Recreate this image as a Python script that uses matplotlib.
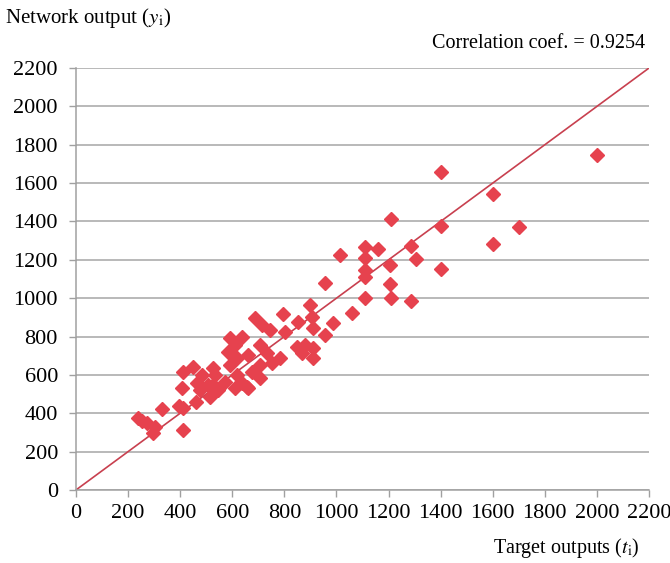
import matplotlib.pyplot as plt

plt.rcParams['font.family'] = ['Liberation Serif', 'DejaVu Serif']
plt.rcParams['mathtext.fontset'] = 'stix'

# target values (t_i) and network outputs (y_i)
target = [2000, 1400, 1600, 1600, 1700, 1400, 1400, 1210, 1285, 1205, 1305, 1205, 1210, 1285,
          1110, 1158, 1013, 1109, 1109, 1109, 956, 1109,
          898, 687, 796, 853, 905, 713, 745, 802, 1058, 988, 911, 956,
          591, 636, 610, 706, 847, 879, 911, 585, 661, 732, 866, 911, 617, 783,
          751, 706, 591, 450, 527, 412, 482, 534, 617, 674, 572, 636, 706,
          610, 661, 476, 527, 406, 463, 546, 508, 514, 655,
          239, 252, 271, 303, 297, 329, 395, 412, 460, 412]
output = [1745, 1660, 1545, 1283, 1370, 1378, 1151, 1412, 1270, 1173, 1204, 1072, 1000, 987,
          1265, 1255, 1225, 1208, 1147, 1112, 1081, 999,
          964, 895, 918, 878, 904, 860, 834, 825, 921, 869, 843, 808,
          791, 799, 756, 756, 747, 756, 739, 721, 704, 713, 713, 687, 687, 687,
          661, 652, 652, 643, 635, 617, 600, 600, 600, 617, 565, 556, 582,
          530, 530, 521, 547, 530, 556, 521, 547, 486, 539,
          374, 360, 348, 330, 298, 421, 437, 428, 458, 313]

ticks = list(range(0, 2201, 200))

fig = plt.figure(figsize=(6.7, 5.63), dpi=100)
ax = fig.add_axes([0.1134, 0.1297, 0.8553, 0.7495])

ax.plot([0, 2200], [0, 2200], color='#c8404f', lw=1.2, zorder=2)
ax.plot(target, output, 'D', color='#e6424e', ms=6.8, mec='#e6424e', zorder=3)

ax.set_xlim(0, 2200)
ax.set_ylim(0, 2200)
ax.set_xticks(ticks)
ax.set_yticks(ticks)
ax.tick_params(labelsize=16, color='#a0a0a0', length=5, width=1)
ax.tick_params(axis='y', pad=8)
ax.tick_params(axis='x', pad=5)
ax.grid(axis='y', color='#a6a6a6', lw=1.1)
ax.set_axisbelow(True)
for s in ['top', 'right']:
    ax.spines[s].set_visible(False)
for s in ['left', 'bottom']:
    ax.spines[s].set_color('#a0a0a0')
    ax.spines[s].set_linewidth(1.1)

fig.text(0.008, 0.968, r'Network output ($y_{\mathrm{i}}$)', fontsize=15, va='center', ha='left')
fig.text(0.963, 0.922, 'Correlation coef. = 0.9254', fontsize=14.5, va='center', ha='right')
fig.text(0.955, 0.027, r'Target outputs ($t_{\mathrm{i}}$)', fontsize=14.5, va='center', ha='right')

fig.savefig('out.png', dpi=100)
